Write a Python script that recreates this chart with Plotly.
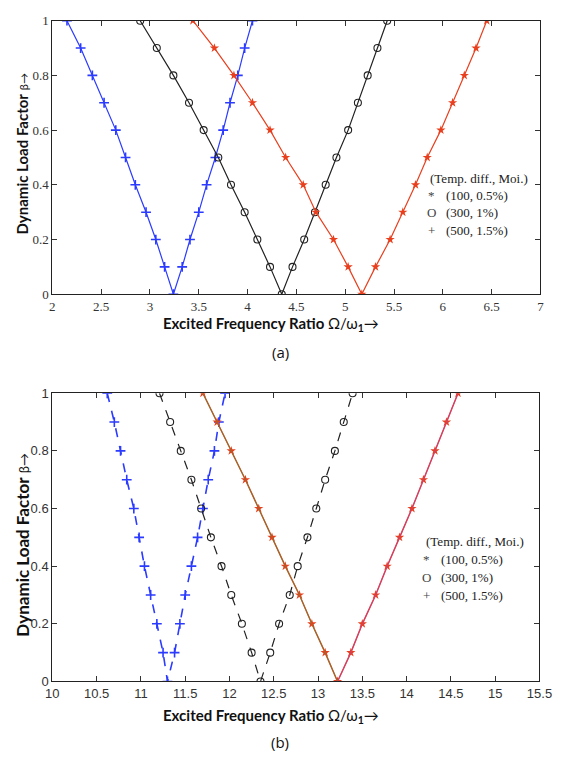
import plotly.graph_objects as go

# ---------------- data ----------------
beta_levels = [1.0, 0.9, 0.8, 0.7, 0.6, 0.5, 0.4, 0.3, 0.2, 0.1, 0.0,
               0.1, 0.2, 0.3, 0.4, 0.5, 0.6, 0.7, 0.8, 0.9, 1.0]

# (a) excited frequency ratio at each beta level
a_100 = [3.44, 3.66, 3.86, 4.05, 4.23, 4.39, 4.57, 4.70, 4.88, 5.03, 5.17,
         5.31, 5.46, 5.59, 5.72, 5.84, 5.98, 6.10, 6.22, 6.34, 6.45]
a_300 = [2.90, 3.07, 3.24, 3.40, 3.55, 3.70, 3.83, 3.97, 4.10, 4.23, 4.35,
         4.46, 4.58, 4.69, 4.80, 4.91, 5.03, 5.13, 5.23, 5.33, 5.43]
a_500 = [2.15, 2.29, 2.41, 2.53, 2.65, 2.75, 2.85, 2.96, 3.06, 3.15, 3.24,
         3.33, 3.41, 3.50, 3.58, 3.67, 3.75, 3.82, 3.90, 3.97, 4.05]

# (b)
b_100 = [11.70, 11.86, 12.02, 12.18, 12.33, 12.48, 12.63, 12.79, 12.93, 13.08, 13.22,
         13.37, 13.50, 13.65, 13.78, 13.92, 14.06, 14.19, 14.32, 14.45, 14.58]
b_300 = [11.21, 11.33, 11.45, 11.57, 11.68, 11.79, 11.91, 12.02, 12.14, 12.25, 12.35,
         12.46, 12.56, 12.68, 12.77, 12.88, 12.98, 13.08, 13.19, 13.29, 13.39]
b_500 = [10.62, 10.70, 10.77, 10.84, 10.92, 10.98, 11.04, 11.11, 11.18, 11.25, 11.30,
         11.38, 11.44, 11.50, 11.57, 11.64, 11.70, 11.76, 11.83, 11.88, 11.95]

a_xticks = [2, 2.5, 3, 3.5, 4, 4.5, 5, 5.5, 6, 6.5, 7]
b_xticks = [10, 10.5, 11, 11.5, 12, 12.5, 13, 13.5, 14, 14.5, 15, 15.5]
y_ticks = [0, 0.2, 0.4, 0.6, 0.8, 1]
y_ticklabels = ["0", "0.2", "0.4", "0.6", "0.8", "1"]

legend_title = "(Temp. diff., Moi.)"
legend_rows = [("*", "(100, 0.5%)"), ("O", "(300, 1%)"), ("+", "(500, 1.5%)")]

RED = "#e8401e"
BLACK = "#222222"
BLUE = "#2b3bff"

W, H = 566, 762


def px_x(p):
    return p / W


def px_y(p):
    return 1 - p / H


fig = go.Figure()

cross = dict(symbol="cross-thin", size=7, line=dict(color=BLUE, width=1.6))
ring = dict(symbol="circle-open", size=7, color=BLACK, line=dict(width=1.1))
star = dict(symbol="star", size=7, color=RED, line=dict(width=0))

# ---------------- panel (a) ----------------
fig.add_trace(go.Scatter(x=a_500, y=beta_levels, mode="lines+markers", xaxis="x", yaxis="y",
                         line=dict(color=BLUE, width=1.2), marker=cross))
fig.add_trace(go.Scatter(x=a_300, y=beta_levels, mode="lines+markers", xaxis="x", yaxis="y",
                         line=dict(color=BLACK, width=1.2), marker=ring))
fig.add_trace(go.Scatter(x=a_100, y=beta_levels, mode="lines+markers", xaxis="x", yaxis="y",
                         line=dict(color=RED, width=1.2), marker=star))

# ---------------- panel (b) ----------------
fig.add_trace(go.Scatter(x=b_500, y=beta_levels, mode="lines+markers", xaxis="x2", yaxis="y2",
                         line=dict(color=BLUE, width=1.6, dash="dash"), marker=cross))
fig.add_trace(go.Scatter(x=b_300, y=beta_levels, mode="lines+markers", xaxis="x2", yaxis="y2",
                         line=dict(color=BLACK, width=1.2, dash="dash"), marker=ring))
fig.add_trace(go.Scatter(x=b_100, y=beta_levels, mode="lines+markers", xaxis="x2", yaxis="y2",
                         line=dict(color=RED, width=1.5), marker=star))
# thin overlaid traces along the red curve
fig.add_trace(go.Scatter(x=b_100[:11], y=beta_levels[:11], mode="lines", xaxis="x2", yaxis="y2",
                         line=dict(color="#3a9a3a", width=0.6)))
fig.add_trace(go.Scatter(x=b_100[10:], y=beta_levels[10:], mode="lines", xaxis="x2", yaxis="y2",
                         line=dict(color="#b040d0", width=0.6)))

axis_common = dict(showgrid=False, zeroline=False, showline=True, linecolor="#222222", linewidth=1.2,
                   mirror="ticks", ticks="inside", ticklen=5, tickcolor="#333333", tickwidth=1)

serif_tick = dict(family="Liberation Serif", size=13, color="#333333")
sans_tick = dict(family="Liberation Sans", size=13, color="#333333")

fig.update_layout(
    width=W, height=H, margin=dict(l=0, r=0, t=0, b=0),
    paper_bgcolor="white", plot_bgcolor="white", showlegend=False,
    xaxis=dict(domain=[px_x(47), px_x(553)], range=[2, 7], anchor="y",
               tickvals=a_xticks, ticktext=[f"{v:g}" for v in a_xticks],
               tickfont=serif_tick, **axis_common),
    yaxis=dict(domain=[px_y(293), px_y(14)], range=[0, 1], anchor="x",
               tickvals=y_ticks, ticktext=y_ticklabels, tickfont=serif_tick, **axis_common),
    xaxis2=dict(domain=[px_x(47), px_x(552)], range=[10, 15.5], anchor="y2",
                tickvals=b_xticks, ticktext=[f"{v:g}" for v in b_xticks],
                tickfont=sans_tick, **axis_common),
    yaxis2=dict(domain=[px_y(688), px_y(394)], range=[0, 1], anchor="x2",
                tickvals=y_ticks, ticktext=y_ticklabels, tickfont=sans_tick, **axis_common),
)

ann = []
xtitle = "<b>Excited Frequency Ratio </b>Ω/ω<b><sub>1</sub></b>→"

for cy_x, cy_y, ysize, cap_y, cap in [(323, 150, 15, 352, "(a)"), (723, 548, 17, 750, "(b)")]:
    ytitle = ("<b>Dynamic Load Factor</b> "
              f"<span style='font-size:{ysize - 4}px'>β→</span>")
    ann.append(dict(text=xtitle, x=px_x(274), y=px_y(cy_x), xref="paper", yref="paper",
                    showarrow=False, font=dict(family="Lato", size=15, color="#111111"),
                    xanchor="center", yanchor="middle"))
    ann.append(dict(text=ytitle, x=px_x(16), y=px_y(cy_y), xref="paper", yref="paper",
                    showarrow=False, font=dict(family="Lato", size=ysize, color="#111111"),
                    textangle=-90, xanchor="center", yanchor="middle"))
    ann.append(dict(text=cap, x=px_x(283), y=px_y(cap_y), xref="paper", yref="paper",
                    showarrow=False, font=dict(family="Open Sans", size=15, color="#111111"),
                    xanchor="center", yanchor="middle"))

# legend text blocks
leg_font = dict(family="Liberation Serif", size=13, color="#222222")
sym_font = dict(family="Liberation Serif", size=13, color="#444444")
for (tx, ty, sx, vx, dy) in [(436, 175, 440, 453, 17.5), (432, 545, 435, 448, 18.5)]:
    ann.append(dict(text=legend_title, x=px_x(tx), y=px_y(ty), xref="paper", yref="paper",
                    showarrow=False, font=leg_font, xanchor="left", yanchor="middle"))
    for i, (sym, lab) in enumerate(legend_rows):
        yy = ty + dy * (i + 1)
        ann.append(dict(text=sym, x=px_x(sx), y=px_y(yy), xref="paper", yref="paper",
                        showarrow=False, font=sym_font, xanchor="center", yanchor="middle"))
        ann.append(dict(text=lab, x=px_x(vx), y=px_y(yy), xref="paper", yref="paper",
                        showarrow=False, font=leg_font, xanchor="left", yanchor="middle"))

fig.update_layout(annotations=ann)
fig.write_html("out.html")
